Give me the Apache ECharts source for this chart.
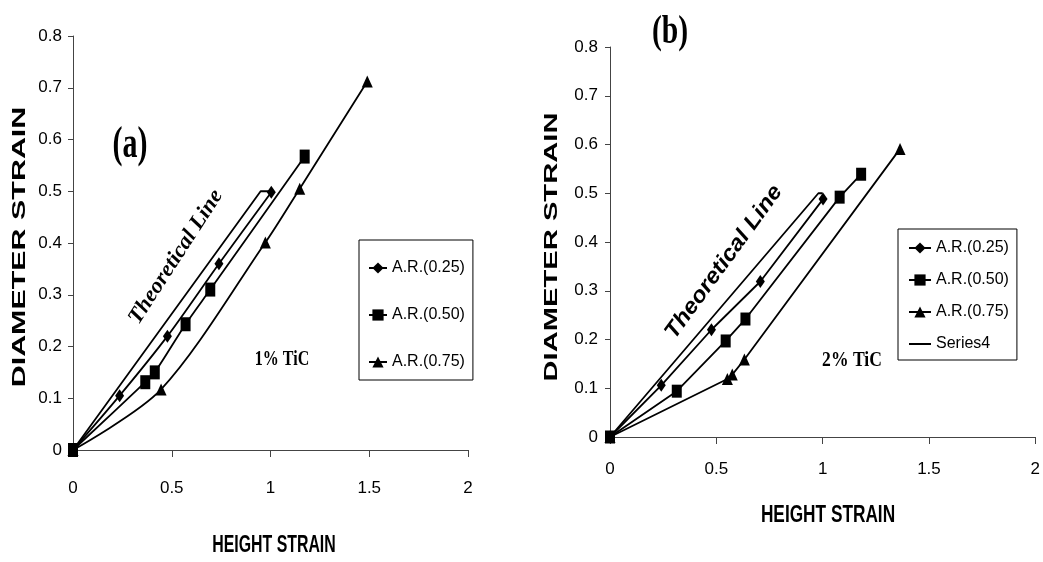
<!DOCTYPE html>
<html><head><meta charset="utf-8">
<script src="https://cdn.jsdelivr.net/npm/echarts@6/dist/echarts.min.js"></script>
<style>html,body{margin:0;padding:0;background:#fff}#c{width:1043px;height:562px}</style>
</head><body><div id="c"></div>
<script>
// ---------- data ----------
const xTickLabels = ['0', '0.5', '1', '1.5', '2'];
const yTickLabels = ['0', '0.1', '0.2', '0.3', '0.4', '0.5', '0.6', '0.7', '0.8'];
const legendNamesA = ['A.R.(0.25)', 'A.R.(0.50)', 'A.R.(0.75)'];
const legendNamesB = ['A.R.(0.25)', 'A.R.(0.50)', 'A.R.(0.75)', 'Series4'];

// panel (a) 1% TiC : [height strain, diameter strain]
const a_ar025 = [[0, 0], [0.236, 0.105], [0.478, 0.220], [0.739, 0.360], [1.004, 0.498]];
const a_ar050 = [[0, 0], [0.366, 0.131], [0.414, 0.150], [0.570, 0.243], [0.695, 0.310], [1.173, 0.567]];
const a_ar075 = [[0, 0], [0.446, 0.117], [0.974, 0.401], [1.148, 0.505], [1.490, 0.712]];
const a_theory = [[0, 0], [0.95, 0.5], [1.0, 0.5]];

// panel (b) 2% TiC
const b_ar025 = [[0, 0], [0.241, 0.106], [0.477, 0.220], [0.707, 0.319], [1.002, 0.488]];
const b_ar050 = [[0, 0], [0.314, 0.094], [0.544, 0.197], [0.637, 0.242], [1.080, 0.492], [1.181, 0.539]];
const b_ar075 = [[0, 0], [0.552, 0.119], [0.575, 0.128], [0.632, 0.159], [1.364, 0.591]];
const b_theory = [[0, 0], [0.98, 0.5], [1.0, 0.5]];

// ---------- fonts ----------
const SANS = '"Liberation Sans", Arial, sans-serif';
const SERIF = '"Liberation Serif", "Times New Roman", serif';
const TICK_SIZE = 17, LEG_SIZE = 16;

// ---------- helpers ----------
function axisX(gi, margin) {
  return {
    type: 'value', gridIndex: gi, min: 0, max: 2, interval: 0.5,
    axisLine: { onZero: false, lineStyle: { color: '#444', width: 1 } },
    axisTick: { length: 7, lineStyle: { color: '#444' } },
    splitLine: { show: false },
    axisLabel: {
      margin: margin, color: '#000', fontFamily: SANS, fontSize: TICK_SIZE,
      formatter: v => xTickLabels[Math.round(v / 0.5)]
    }
  };
}
function axisY(gi, margin) {
  return {
    type: 'value', gridIndex: gi, min: 0, max: 0.8, interval: 0.1,
    axisLine: { show: true, onZero: false, lineStyle: { color: '#444', width: 1 } },
    axisTick: { show: true, length: 5, lineStyle: { color: '#444' } },
    splitLine: { show: false },
    axisLabel: {
      margin: margin, color: '#000', fontFamily: SANS, fontSize: TICK_SIZE,
      formatter: v => yTickLabels[Math.round(v / 0.1)]
    }
  };
}
function line(name, data, gi, symbol, size, smooth) {
  return {
    type: 'line', name: name, data: data, xAxisIndex: gi, yAxisIndex: gi,
    symbol: symbol, symbolSize: size, showSymbol: symbol !== 'none', showAllSymbol: true,
    smooth: smooth,
    lineStyle: { color: '#000', width: 1.8 }, itemStyle: { color: '#000' },
    emphasis: { disabled: true }, z: 3
  };
}
function txt(text, x, y, font, rot, sx, sy) {
  return {
    type: 'text', x: x, y: y, rotation: rot || 0, scaleX: sx || 1, scaleY: sy || 1, z: 10,
    style: { text: text, font: font, fill: '#000', textAlign: 'center', textVerticalAlign: 'middle', align: 'center', verticalAlign: 'middle' }
  };
}
const legendBase = {
  orient: 'vertical', borderColor: '#000', borderWidth: 1, selectedMode: false,
  itemHeight: 14,
  textStyle: { fontFamily: SANS, fontSize: LEG_SIZE, lineHeight: 14, color: '#000' }
};

const D = Math.PI / 180;
const option = {
  animation: false,
  backgroundColor: '#fff',
  grid: [
    { left: 73, top: 36, width: 395, height: 414 },
    { left: 610, top: 47, width: 429, height: 390 }
  ],
  xAxis: [axisX(0, 30), axisX(1, 24)],
  yAxis: [axisY(0, 11), axisY(1, 12)],
  legend: [
    Object.assign({}, legendBase, {
      data: legendNamesA, left: 359, top: 240, itemWidth: 18, itemGap: 31, padding: [20, 8, 10, 9]
    }),
    Object.assign({}, legendBase, {
      data: legendNamesB.map(n => n === 'Series4'
        ? { name: n, itemStyle: { color: 'rgba(0,0,0,0)', borderWidth: 0 } } : n),
      left: 898, top: 229, itemWidth: 22, itemGap: 16, padding: [11, 8, 8, 10]
    })
  ],
  series: [
    line('Theoretical (a)', a_theory, 0, 'none', 0, false),
    line('A.R.(0.25)', a_ar025, 0, 'diamond', [9, 13], 0.3),
    line('A.R.(0.50)', a_ar050, 0, 'rect', [10, 14], 0.3),
    line('A.R.(0.75)', a_ar075, 0, 'triangle', [11, 12], 0.3),
    line('A.R.(0.25)', b_ar025, 1, 'diamond', [9, 13], false),
    line('A.R.(0.50)', b_ar050, 1, 'rect', [10, 13], false),
    line('A.R.(0.75)', b_ar075, 1, 'triangle', [11, 12], false),
    line('Series4', b_theory, 1, 'none', 0, false)
  ],
  graphic: [
    txt('DIAMETER STRAIN', 20, 247, 'bold 18px ' + SANS, 90 * D, 1.69, 1),
    txt('DIAMETER STRAIN', 552, 247, 'bold 18px ' + SANS, 90 * D, 1.62, 1),
    txt('HEIGHT STRAIN', 274, 546, 'bold 23px ' + SANS, 0, 0.69, 1),
    txt('HEIGHT STRAIN', 828, 516, 'bold 23px ' + SANS, 0, 0.75, 1),
    txt('(a)', 130, 146, 'bold 40px ' + SERIF, 0, 0.75, 1.1),
    txt('(b)', 670, 33, 'bold 40px ' + SERIF, 0, 0.74, 1),
    txt('1% TiC', 282, 359, 'bold 20px ' + SERIF, 0, 0.8, 1.1),
    txt('2% TiC', 852, 360, 'bold 20px ' + SERIF, 0, 0.88, 1.1),
    txt('Theoretical Line', 176, 257, 'italic bold 22px ' + SERIF, 57 * D, 1.03, 1),
    txt('Theoretical Line', 724, 262, 'italic bold 22px ' + SANS, 54 * D, 1.09, 1)
  ]
};
const chart = echarts.init(document.getElementById('c'), null, { renderer: 'canvas' });
chart.setOption(option);
</script>
</body></html>
